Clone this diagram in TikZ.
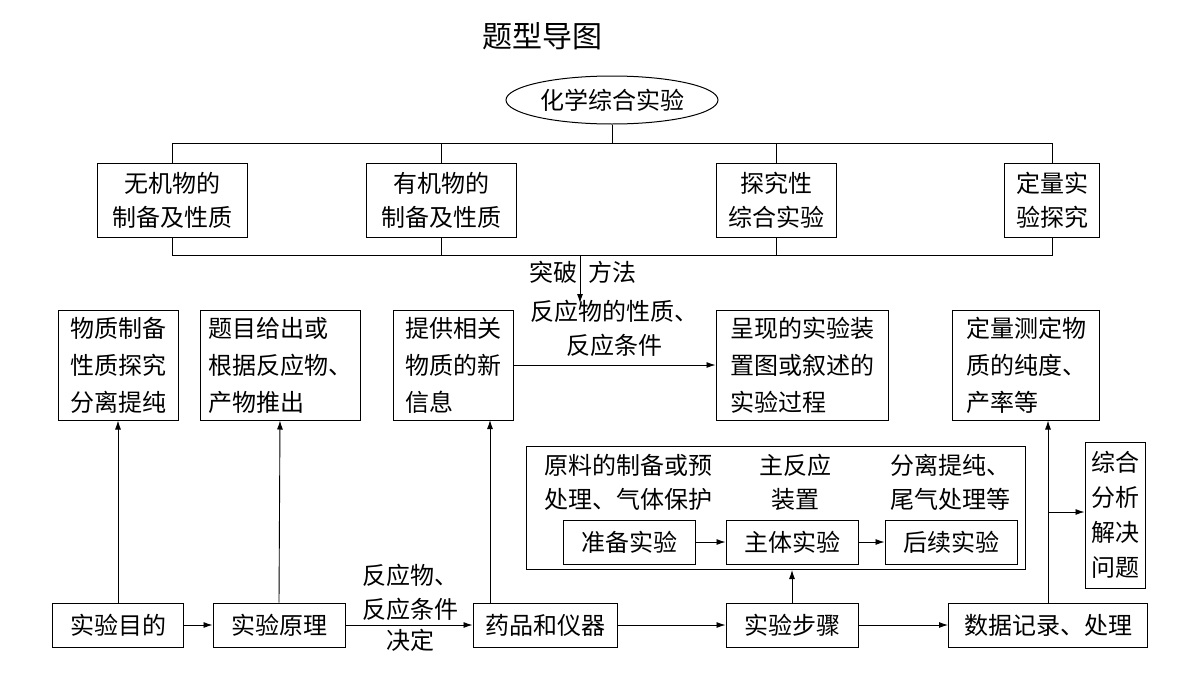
\documentclass[tikz,border=0pt]{standalone}
\usepackage{fontspec}
\setmainfont{Noto Sans CJK SC}
\usetikzlibrary{shapes.geometric,arrows.meta}
\begin{document}
\begin{tikzpicture}[x=1pt,y=-1pt,
  every node/.style={font=\fontsize{24}{34}\selectfont,inner sep=0pt},
  bx/.style={draw,line width=1pt,align=left},
  lab/.style={align=center},
  ar/.style={-{Latex[length=9pt,width=6pt]},line width=0.9pt},
  ln/.style={line width=0.9pt}]
\useasboundingbox (0,0) rectangle (1200,675);
\node[font=\fontsize{30}{36}\selectfont] (title) at (542,36) {题型导图};
\node[draw,ellipse,line width=1pt,minimum width=212pt,minimum height=48pt] (root) at (612,100) {化学综合实验};
\node[bx,minimum width=150pt,minimum height=74pt,align=center] (b1) at (172,200) {无机物的\\制备及性质};
\node[bx,minimum width=150pt,minimum height=74pt,align=center] (b2) at (441,200) {有机物的\\制备及性质};
\node[bx,minimum width=120pt,minimum height=74pt,align=center] (b3) at (776,200) {探究性\\综合实验};
\node[bx,minimum width=95pt,minimum height=74pt,align=center] (b4) at (1052,200) {定量实\\验探究};
\draw[ln] (root.south) -- (612,143);
\draw[ln] (b1.north) |- (b4.north |- 0,143) -- (b4.north);
\draw[ln] (b2.north) -- (b2.north |- 0,143);
\draw[ln] (b3.north) -- (b3.north |- 0,143);
\draw[ln] (b1.south) |- (b4.south |- 0,255) -- (b4.south);
\draw[ln] (b2.south) -- (b2.south |- 0,255);
\draw[ln] (b3.south) -- (b3.south |- 0,255);
\coordinate (s) at (580,255);
\coordinate (e) at (580,303);
\draw[ar] (s) -- (e);
\node (tp) at (553,272) {突破};
\node (ff) at (612,272) {方法};
\tikzset{r3/.style={bx,font=\fontsize{24}{37}\selectfont,minimum height=110pt,inner sep=4pt}}
\node[r3,minimum width=120pt] (A) at (118,365) {物质制备\\性质探究\\分离提纯};
\node[r3,minimum width=160pt] (B) at (280,365) {题目给出或\\根据反应物、\\产物推出};
\node[r3,minimum width=120pt] (C) at (453,365) {提供相关\\物质的新\\信息};
\node[r3,minimum width=172pt] (D) at (802,365) {呈现的实验装\\置图或叙述的\\实验过程};
\node[r3,minimum width=147pt] (E) at (1026,365) {定量测定物\\质的纯度、\\产率等};
\draw[ar] (C) -- (D) node[lab,midway,above=8pt] {反应物的性质、\\反应条件};
\node[draw,line width=1pt,minimum width=499pt,minimum height=123pt] (big) at (776,508) {};
\node[lab] (t1) at (628,482) {原料的制备或预\\处理、气体保护};
\node[lab] (t2) at (795,482) {主反应\\装置};
\node[lab] (t3) at (950,482) {分离提纯、\\尾气处理等};
\tikzset{ib/.style={bx,minimum width=132pt,minimum height=44pt,align=center}}
\node[ib] (p1) at (629,542) {准备实验};
\node[ib] (p2) at (792,542) {主体实验};
\node[ib] (p3) at (951,542) {后续实验};
\draw[ar] (p1) -- (p2);
\draw[ar] (p2) -- (p3);
\node[bx,minimum width=60pt,minimum height=146pt,align=center,font=\fontsize{24}{35}\selectfont] (Z) at (1115,515) {综合\\分析\\解决\\问题};
\tikzset{bb/.style={bx,minimum height=44pt,align=center}}
\node[bb,minimum width=131pt] (q1) at (118,625) {实验目的};
\node[bb,minimum width=132pt] (q2) at (279,625) {实验原理};
\node[bb,minimum width=144pt] (q3) at (545,625) {药品和仪器};
\node[bb,minimum width=132pt] (q4) at (792,625) {实验步骤};
\node[bb,minimum width=199pt] (q5) at (1048,625) {数据记录、处理};
\draw[ar] (q1) -- (q2);
\draw[ar] (q2) -- (q3);
\node[lab] (l1) at (410,592) {反应物、\\反应条件};
\node[lab] (l2) at (410,640) {决定};
\draw[ar] (q3) -- (q4);
\draw[ar] (q4) -- (q5);
\draw[ar] (q1.north) -- (A.south);
\draw[ar] (q2.north) -- (B.south);
\draw[ar] (q3.north -| 490,0) -- (490,420);
\draw[ar] (q4.north) -- (big.south -| q4.north);
\draw[ar] (q5.north) -- (q5.north |- E.south);
\coordinate (br) at (1048,512);
\draw[ar] (br) -- (Z.west |- br);
\end{tikzpicture}
\end{document}
